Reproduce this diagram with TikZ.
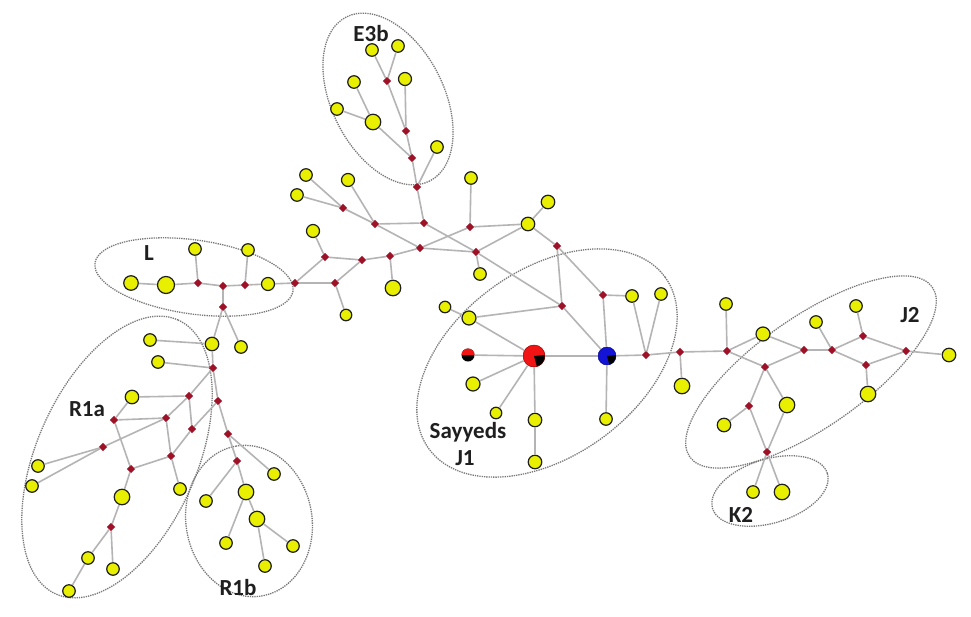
\documentclass[tikz,border=0pt]{standalone}
\usepackage{fontspec}
\setmainfont{Carlito}
\usetikzlibrary{shapes.geometric}
\definecolor{ycol}{RGB}{232,240,0}
\definecolor{rcol}{RGB}{158,18,40}
\definecolor{ecol}{RGB}{180,180,180}
\definecolor{ocol}{RGB}{120,120,120}
\definecolor{bcol}{RGB}{20,20,215}
\definecolor{redbig}{RGB}{240,20,20}
\begin{document}
\begin{tikzpicture}[x=1pt,y=-1pt,
  yel/.style={circle, fill=ycol, draw=black!88, line width=1.2pt, inner sep=0pt, minimum size=#1},
  yel/.default=12.5pt,
  mv/.style={diamond, fill=rcol, inner sep=0pt, minimum size=8.5pt},
  lnk/.style={draw=ecol, line width=1.6pt},
  grp/.style={draw=ocol, densely dotted, line width=1.3pt},
  lbl/.style={font=\fontsize{23}{27}\selectfont\bfseries, text=black!88, inner sep=0pt}]
\useasboundingbox (0,0) rectangle (971,616);
\fill[white] (0,0) rectangle (971,616);
% groups
\draw[grp, rotate around={-63:(388,99)}] (388,99) ellipse [x radius=92, y radius=56];
\draw[grp, rotate around={-8:(194,277)}] (194,277) ellipse [x radius=100, y radius=37];
\draw[grp, rotate around={66:(117,457)}] (117,457) ellipse [x radius=150, y radius=80];
\draw[grp, rotate around={100:(249,521)}] (249,521) ellipse [x radius=76, y radius=63];
\draw[grp, rotate around={36:(547,363)}] (547,363) ellipse [x radius=146, y radius=93];
\draw[grp, rotate around={35:(811,372)}] (811,372) ellipse [x radius=148, y radius=55];
\draw[grp, rotate around={17:(770,491)}] (770,491) ellipse [x radius=60, y radius=32];
% haplotype nodes
\node[yel] (y1) at (372,50) {};
\node[yel] (y2) at (398,46) {};
\node[yel] (y3) at (354,82) {};
\node[yel=13pt] (y4) at (405,79) {};
\node[yel] (y5) at (337,109) {};
\node[yel=15.5pt] (y6) at (373,122) {};
\node[yel] (y7) at (437,147) {};
\node[yel] (y8) at (306,175) {};
\node[yel=13pt] (y9) at (348,180) {};
\node[yel] (y10) at (297,195) {};
\node[yel] (y11) at (471,178) {};
\node[yel=13.5pt] (y12) at (548,202) {};
\node[yel=13.5pt] (y13) at (528,224) {};
\node[yel=13pt] (y14) at (313,231) {};
\node[yel] (y15) at (480,274) {};
\node[yel=15.5pt] (y16) at (393,288) {};
\node[yel=11.5pt] (y17) at (445,307) {};
\node[yel=14pt] (y18) at (469,318) {};
\node[yel=11.5pt] (y19) at (346,315) {};
\node[yel] (y20) at (195,249) {};
\node[yel] (y21) at (248,250) {};
\node[yel=14.5pt] (y22) at (131,283) {};
\node[yel=17pt] (y23) at (166,285) {};
\node[yel=13pt] (y24) at (268,284) {};
\node[yel] (y25) at (150,340) {};
\node[yel=13.5pt] (y26) at (212,344) {};
\node[yel] (y27) at (241,347) {};
\node[yel] (y28) at (158,362) {};
\node[yel=13.5pt] (y29) at (132,397) {};
\node[yel] (y30) at (38,466) {};
\node[yel] (y31) at (32,486) {};
\node[yel=15.5pt] (y32) at (122,497) {};
\node[yel] (y33) at (180,489) {};
\node[yel] (y34) at (88,558) {};
\node[yel] (y35) at (113,569) {};
\node[yel] (y36) at (69,591) {};
\node[yel] (y37) at (274,474) {};
\node[yel=15.5pt] (y38) at (246,492) {};
\node[yel] (y39) at (206,501) {};
\node[yel=15.5pt] (y40) at (257,519) {};
\node[yel] (y41) at (226,543) {};
\node[yel] (y42) at (293,546) {};
\node[yel] (y43) at (265,566) {};
\node[yel] (y44) at (632,296) {};
\node[yel] (y45) at (661,294) {};
\node[yel=14pt] (y46) at (473,384) {};
\node[yel=11.5pt] (y47) at (496,413) {};
\node[yel=13.5pt] (y48) at (535,420) {};
\node[yel=13.5pt] (y49) at (535,462) {};
\node[yel] (y50) at (606,419) {};
\node[yel=15.5pt] (y51) at (682,386) {};
\node[yel] (y52) at (726,304) {};
\node[yel=14pt] (y53) at (763,334) {};
\node[yel] (y54) at (816,322) {};
\node[yel] (y55) at (856,306) {};
\node[yel=13.5pt] (y56) at (949,355) {};
\node[yel=15.5pt] (y57) at (868,394) {};
\node[yel=15.5pt] (y58) at (787,405) {};
\node[yel=13.5pt] (y59) at (724,425) {};
\node[yel] (y60) at (753,492) {};
\node[yel=15.5pt] (y61) at (782,492) {};
% median vectors
\node[mv] (a1) at (387,81) {};
\node[mv] (a2) at (406,131) {};
\node[mv] (a3) at (412,158) {};
\node[mv] (a4) at (417,187) {};
\node[mv] (b1) at (343,208) {};
\node[mv] (b2) at (375,224) {};
\node[mv] (b3) at (424,223) {};
\node[mv] (b4) at (470,227) {};
\node[mv] (b5) at (420,248) {};
\node[mv] (b6) at (476,252) {};
\node[mv] (b7) at (557,246) {};
\node[mv] (b8) at (562,306) {};
\node[mv] (b9) at (603,295) {};
\node[mv] (b10) at (390,256) {};
\node[mv] (b11) at (362,260) {};
\node[mv] (b12) at (325,257) {};
\node[mv] (b13) at (295,283) {};
\node[mv] (b14) at (335,283) {};
\node[mv] (c1) at (198,283) {};
\node[mv] (c2) at (223,286) {};
\node[mv] (c3) at (245,285) {};
\node[mv] (c4) at (223,307) {};
\node[mv] (d1) at (213,368) {};
\node[mv] (d2) at (189,396) {};
\node[mv] (d3) at (218,401) {};
\node[mv] (d4) at (114,420) {};
\node[mv] (d5) at (166,418) {};
\node[mv] (d6) at (192,429) {};
\node[mv] (d7) at (228,434) {};
\node[mv] (d8) at (103,447) {};
\node[mv] (d9) at (171,456) {};
\node[mv] (d10) at (237,461) {};
\node[mv] (d11) at (131,469) {};
\node[mv] (d12) at (111,527) {};
\node[mv] (e1) at (646,355) {};
\node[mv] (e2) at (680,352) {};
\node[mv] (e3) at (727,351) {};
\node[mv] (e4) at (765,367) {};
\node[mv] (e5) at (804,350) {};
\node[mv] (e6) at (832,350) {};
\node[mv] (e7) at (863,336) {};
\node[mv] (e8) at (866,365) {};
\node[mv] (e9) at (906,351) {};
\node[mv] (e10) at (749,406) {};
\node[mv] (e11) at (767,452) {};
% special nodes
\node[circle, fill=black, inner sep=0pt, minimum size=13pt] (h) at (468,355) {};
\fill[redbig] ([xshift=-6.5pt]h.center) arc[start angle=180, end angle=0, radius=6.5pt] -- cycle;
\node[circle, fill=redbig, draw=red!60!black, line width=0.5pt, inner sep=0pt, minimum size=22pt] (R) at (534,356) {};
\fill[black] (R.center) -- ++(10.8pt,1pt) arc[start angle=5, end angle=-75, radius=10.8pt] -- cycle;
\node[circle, fill=bcol, draw=bcol!60!black, line width=0.5pt, inner sep=0pt, minimum size=18pt] (B) at (607,356) {};
\fill[black] (B.center) -- ++(8.8pt,0.8pt) arc[start angle=5, end angle=-75, radius=8.8pt] -- cycle;
% links
\foreach \u/\v in {y1/a1, y2/a1, a1/a2, y4/a2, y3/y6, y5/y6, y6/a3, a2/a3, a3/a4, y7/a4,
  a4/b3, y8/b1, y10/b1, b1/b2, y9/b2, b2/b3, b2/b5, b3/b6, b5/b4, b4/y11, b4/y13, b5/b6,
  b6/y13, b6/y15, b6/b8, y13/y12, y13/b7, b7/b8, b7/b9,
  b10/b5, b10/b11, b10/y16, b11/b12, b11/b14, b12/b13, b12/y14, b13/b14, b14/y19,
  b8/y18, y17/y18, y18/R, b8/B, b9/B, b9/y44,
  h/R, y46/R, y47/R, R/y48, y48/y49, R/B, B/y50, B/e1, y44/e1, y45/e1, e1/e2, e2/y51, e2/e3,
  e3/y52, e3/y53, e3/e4, y53/e5, e4/e5, e5/e6, e6/y54, e6/e7, e6/e8, e7/y55, e7/e9, e8/e9,
  e8/y57, e9/y56, e4/e10, e4/y58, e10/y59, e10/e11, y58/e11, e11/y60, e11/y61,
  y22/y23, y23/c1, c1/y20, c1/c2, c2/c3, c3/y21, c3/y24, y24/b13, c2/c4,
  c4/y26, c4/y27, y26/y25, y26/d1, y28/d1, d1/d2, d1/d3, d2/y29, d2/d6, d2/d5, y29/d4,
  d4/d5, d5/d8, d8/y30, d8/y31, d4/d11, d11/d9, d9/d5, d9/d6, d6/d3, d9/y33, d3/d7, d7/d10,
  d11/y32, y32/d12, d12/y34, d12/y35, y34/y36,
  d7/y37, d10/y38, d10/y39, y38/y40, y38/y41, y40/y42, y40/y43}
  \draw[lnk] (\u) -- (\v);
% labels
\node[lbl] (tE3b) at (371,34) {E3b};
\node[lbl] (tL) at (149,253) {L};
\node[lbl] (tR1a) at (87,409) {R1a};
\node[lbl] (tR1b) at (238,588) {R1b};
\node[lbl] (tS) at (468,432) {Sayyeds};
\node[lbl] (tJ1) at (465,458) {J1};
\node[lbl] (tJ2) at (910,315) {J2};
\node[lbl] (tK2) at (741,515) {K2};
\end{tikzpicture}
\end{document}
